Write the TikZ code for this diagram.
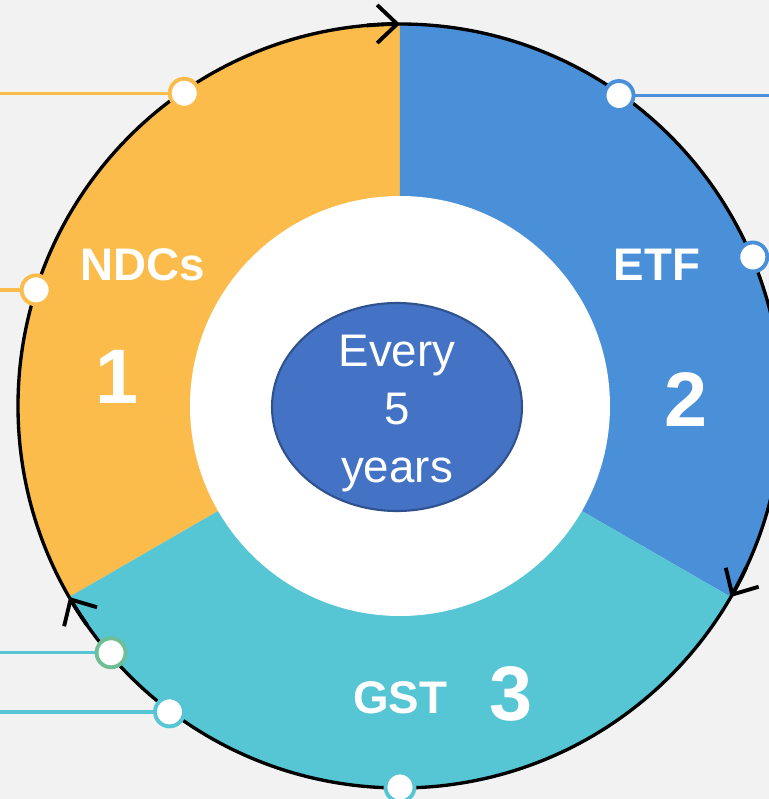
\documentclass[tikz,border=0pt]{standalone}
\usepackage{fontspec}
\setmainfont{Liberation Sans}
\usetikzlibrary{arrows.meta,shapes.geometric}
\definecolor{ndcorange}{RGB}{251,188,76}
\definecolor{etfblue}{RGB}{74,144,217}
\definecolor{gstcyan}{RGB}{86,197,212}
\definecolor{midblue}{RGB}{68,114,196}
\definecolor{midedge}{RGB}{47,82,143}
\definecolor{dotgreen}{RGB}{110,190,150}
\definecolor{paper}{RGB}{242,242,242}

\begin{document}
\begin{tikzpicture}[
    dot/.style={circle,fill=white,draw=#1,line width=1.1pt,minimum size=.29cm,inner sep=0pt},
    lead/.style={#1,line width=.95pt},
    cyc/.style={line width=1.1pt,-{Straight Barb[length=2mm,width=3.8mm]}},
    lbl/.style={text=white,font=\bfseries\fontsize{13}{16}\selectfont},
    num/.style={text=white,font=\bfseries\fontsize{22}{26}\selectfont}]
  \fill[paper] (-4,4.06) rectangle (3.69,-3.93);
  \useasboundingbox (-4,4.06) rectangle (3.69,-3.93);
  \coordinate (west) at (-4,0);
  \coordinate (east) at (3.69,0);

  % the three stages
  \fill[ndcorange] (0,0) -- (90:3.82) arc (90:210:3.82) -- cycle;
  \fill[etfblue] (0,0) -- (-30:3.82) arc (-30:90:3.82) -- cycle;
  \fill[gstcyan] (0,0) -- (210:3.82) arc (210:330:3.82) -- cycle;
  \draw[line width=.95pt] (0,0) circle (3.82);
  \fill[white] (0,0) circle (2.1);

  \node[ellipse,fill=midblue,draw=midedge,line width=.6pt,minimum width=2.5cm,minimum height=2.08cm,inner sep=0pt]
    (cycle) at (-.03,-.01) {};
  \node[text=white,align=center,font=\fontsize{13}{16.5}\selectfont] (cycletext) at (-.03,-.08) {Every\\5\\years};

  \node[lbl] (ndcs) at (-2.57,1.41) {NDCs};
  \node[num] (one) at (-2.83,.29) {1};
  \node[lbl] (etf) at (2.57,1.41) {ETF};
  \node[num] (two) at (2.86,.06) {2};
  \node[lbl] (gst) at (0,-2.92) {GST};
  \node[num] (three) at (1.11,-2.88) {3};

  % direction of the cycle
  \draw[cyc] (95:3.82) arc (95:90:3.82);
  \draw[cyc] (-25:3.82) arc (-25:-30:3.82);
  \draw[cyc] (215:3.82) arc (215:210:3.82);

  \node[dot=ndcorange] (n1) at (124.6:3.80) {};
  \node[dot=ndcorange] (n2) at (162.3:3.82) {};
  \node[dot=etfblue] (e1) at (54.8:3.80) {};
  \node[dot=etfblue] (e2) at (22.9:3.83) {};
  \node[dot=dotgreen] (g1) at (220.5:3.80) {};
  \node[dot=gstcyan] (g2) at (233:3.83) {};
  \node[dot=gstcyan] (g3) at (270:3.81) {};

  \draw[lead=ndcorange] (n1) -- (n1 -| west);
  \draw[lead=ndcorange] (n2) -- (n2 -| west);
  \draw[lead=etfblue] (e1) -- (e1 -| east);
  \draw[lead=etfblue] (e2) -- (e2 -| east);
  \draw[lead=gstcyan] (g1) -- (g1 -| west);
  \draw[lead=gstcyan] (g2) -- (g2 -| west);
\end{tikzpicture}
\end{document}
